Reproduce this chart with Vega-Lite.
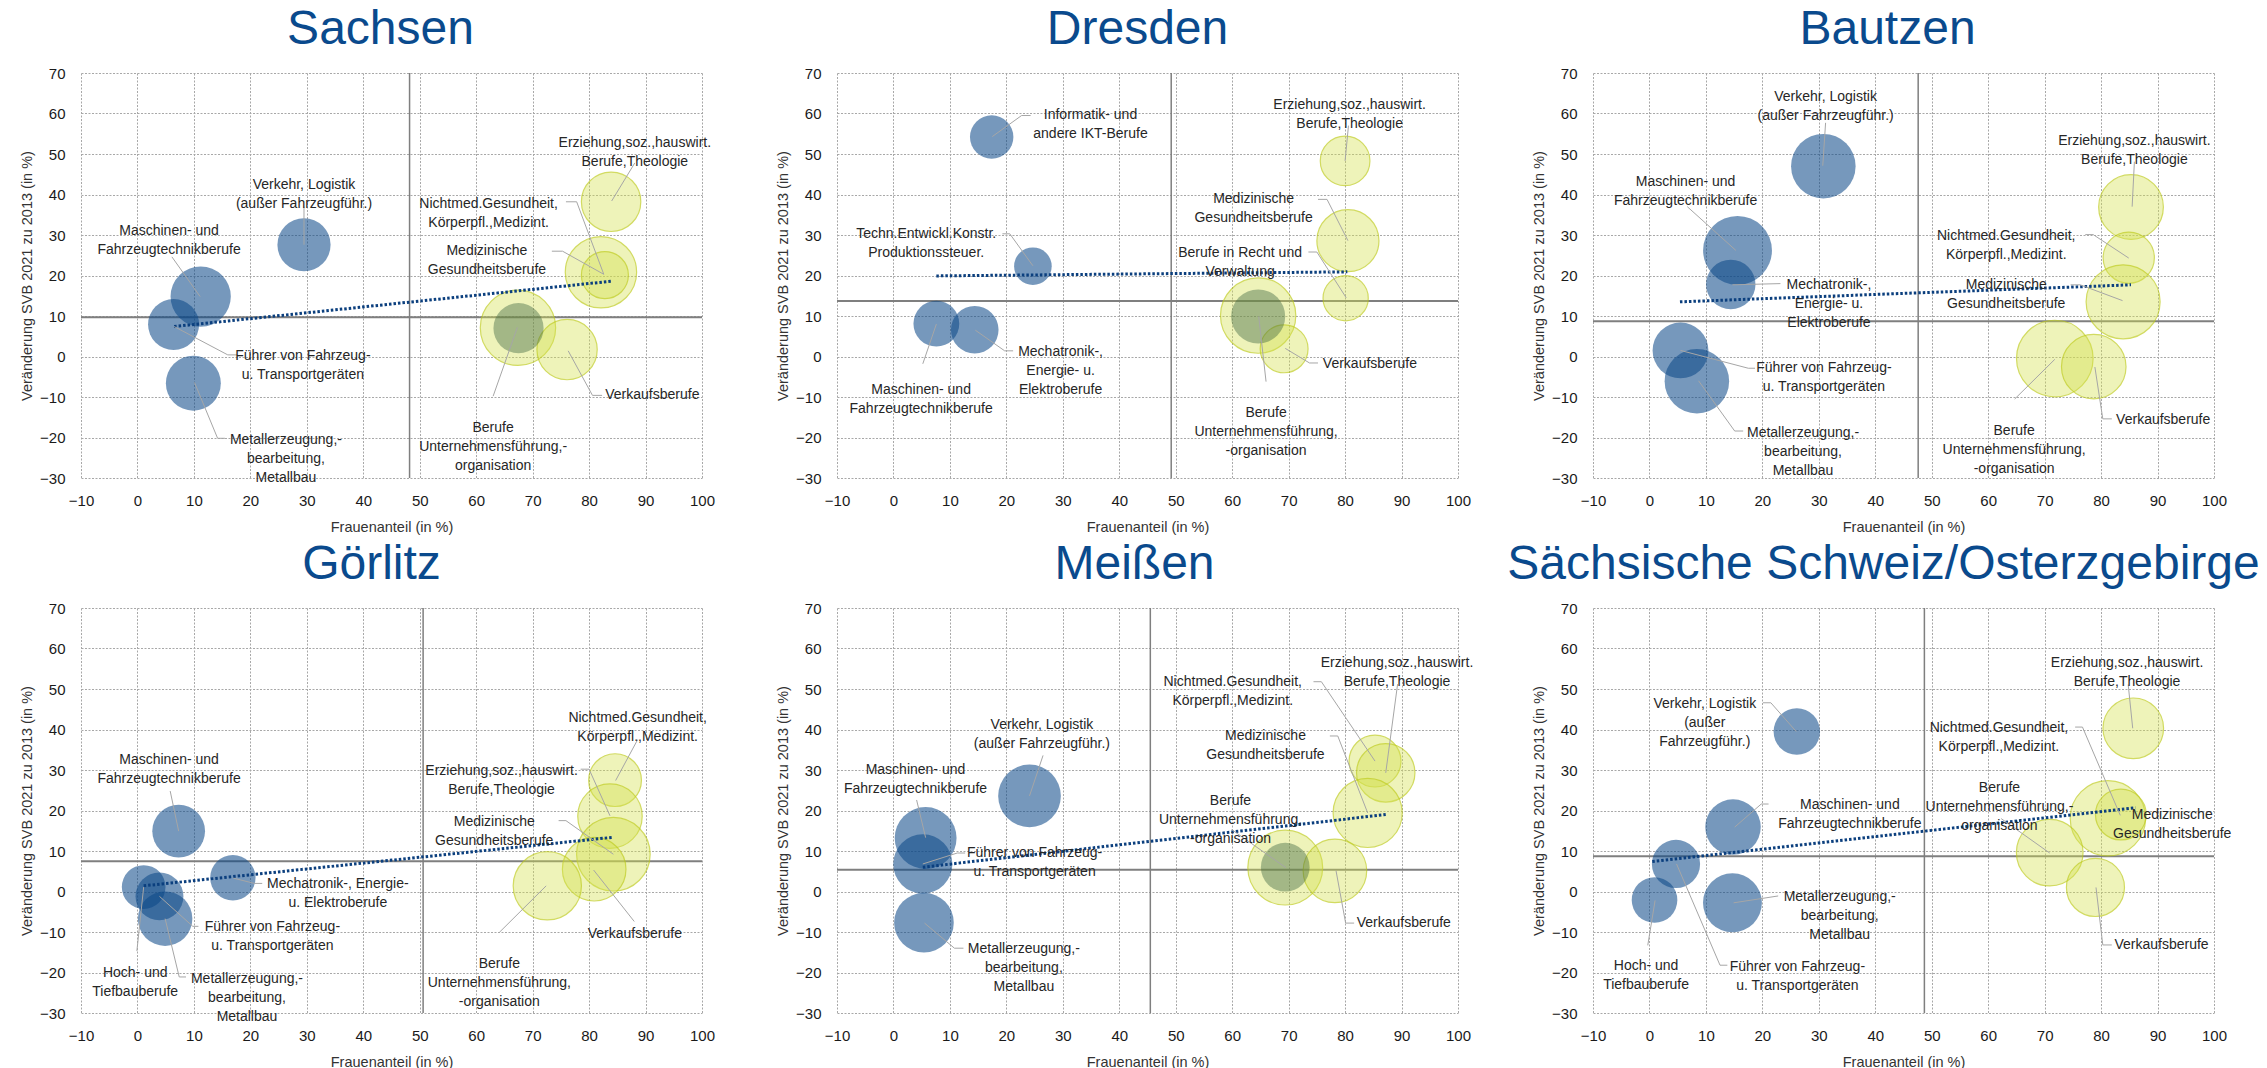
{
"$schema": "https://vega.github.io/schema/vega-lite/v6.json",
"background": "white",
"padding": {"left": 19, "top": 6, "right": 0, "bottom": 0},
"datasets": {
"refs": [
{"panel":"Sachsen","frauenanteil":48.2,"veraenderung":9.7},
{"panel":"Dresden","frauenanteil":49.2,"veraenderung":13.7},
{"panel":"Bautzen","frauenanteil":47.6,"veraenderung":8.7},
{"panel":"Görlitz","frauenanteil":50.6,"veraenderung":7.5},
{"panel":"Meißen","frauenanteil":45.5,"veraenderung":5.4},
{"panel":"Sächsische Schweiz/Osterzgebirge","frauenanteil":48.7,"veraenderung":8.7}
],
"trend": [
{"panel":"Sachsen","frauenanteil":6.5,"veraenderung":7.4},{"panel":"Sachsen","frauenanteil":84,"veraenderung":18.6},
{"panel":"Dresden","frauenanteil":7.6,"veraenderung":19.9},{"panel":"Dresden","frauenanteil":80.4,"veraenderung":20.9},
{"panel":"Bautzen","frauenanteil":5.4,"veraenderung":13.5},{"panel":"Bautzen","frauenanteil":85.3,"veraenderung":17.7},
{"panel":"Görlitz","frauenanteil":1.1,"veraenderung":1.4},{"panel":"Görlitz","frauenanteil":84.3,"veraenderung":13.4},
{"panel":"Meißen","frauenanteil":5.2,"veraenderung":6.0},{"panel":"Meißen","frauenanteil":87.2,"veraenderung":19.0},
{"panel":"Sächsische Schweiz/Osterzgebirge","frauenanteil":0.5,"veraenderung":7.4},{"panel":"Sächsische Schweiz/Osterzgebirge","frauenanteil":86.1,"veraenderung":20.7}
],
"bubbles": [
{"panel":"Sachsen","beruf":"Verkehr, Logistik (außer Fahrzeugführ.)","frauenanteil":29.5,"veraenderung":27.6,"groesse":3600,"gruppe":"Männerberufe"},
{"panel":"Sachsen","beruf":"Maschinen- und Fahrzeugtechnikberufe","frauenanteil":11.2,"veraenderung":14.8,"groesse":4624,"gruppe":"Männerberufe"},
{"panel":"Sachsen","beruf":"Führer von Fahrzeug- u. Transportgeräten","frauenanteil":6.4,"veraenderung":7.9,"groesse":3318,"gruppe":"Männerberufe"},
{"panel":"Sachsen","beruf":"Metallerzeugung,-bearbeitung, Metallbau","frauenanteil":9.9,"veraenderung":-6.6,"groesse":3844,"gruppe":"Männerberufe"},
{"panel":"Sachsen","beruf":"Erziehung,soz.,hauswirt. Berufe,Theologie","frauenanteil":83.9,"veraenderung":38.2,"groesse":4489,"gruppe":"Frauenberufe"},
{"panel":"Sachsen","beruf":"Medizinische Gesundheitsberufe","frauenanteil":82.1,"veraenderung":20.8,"groesse":6480,"gruppe":"Frauenberufe"},
{"panel":"Sachsen","beruf":"Nichtmed.Gesundheit, Körperpfl.,Medizint.","frauenanteil":82.8,"veraenderung":20.1,"groesse":2809,"gruppe":"Frauenberufe"},
{"panel":"Sachsen","beruf":"Berufe Unternehmensführung,-organisation","frauenanteil":67.4,"veraenderung":7.1,"groesse":7225,"gruppe":"Frauenberufe"},
{"panel":"Sachsen","beruf":"Verkaufsberufe","frauenanteil":76.1,"veraenderung":1.7,"groesse":4624,"gruppe":"Frauenberufe"},
{"panel":"Sachsen","beruf":"(ohne Bezeichnung)","frauenanteil":67.5,"veraenderung":7.0,"groesse":3204,"gruppe":"Sonstige"},

{"panel":"Dresden","beruf":"Informatik- und andere IKT-Berufe","frauenanteil":17.4,"veraenderung":54.2,"groesse":2401,"gruppe":"Männerberufe"},
{"panel":"Dresden","beruf":"Techn.Entwickl.Konstr. Produktionssteuer.","frauenanteil":24.7,"veraenderung":22.3,"groesse":1798,"gruppe":"Männerberufe"},
{"panel":"Dresden","beruf":"Maschinen- und Fahrzeugtechnikberufe","frauenanteil":7.6,"veraenderung":8.1,"groesse":2673,"gruppe":"Männerberufe"},
{"panel":"Dresden","beruf":"Mechatronik-, Energie- u. Elektroberufe","frauenanteil":14.4,"veraenderung":6.6,"groesse":2884,"gruppe":"Männerberufe"},
{"panel":"Dresden","beruf":"Erziehung,soz.,hauswirt. Berufe,Theologie","frauenanteil":80.0,"veraenderung":48.3,"groesse":3136,"gruppe":"Frauenberufe"},
{"panel":"Dresden","beruf":"Medizinische Gesundheitsberufe","frauenanteil":80.5,"veraenderung":28.6,"groesse":4900,"gruppe":"Frauenberufe"},
{"panel":"Dresden","beruf":"Berufe in Recht und Verwaltung","frauenanteil":80.1,"veraenderung":14.4,"groesse":2601,"gruppe":"Frauenberufe"},
{"panel":"Dresden","beruf":"Berufe Unternehmensführung,-organisation","frauenanteil":64.6,"veraenderung":10.1,"groesse":7225,"gruppe":"Frauenberufe"},
{"panel":"Dresden","beruf":"Verkaufsberufe","frauenanteil":69.2,"veraenderung":1.9,"groesse":2916,"gruppe":"Frauenberufe"},
{"panel":"Dresden","beruf":"(ohne Bezeichnung)","frauenanteil":64.6,"veraenderung":9.9,"groesse":3721,"gruppe":"Sonstige"},

{"panel":"Bautzen","beruf":"Verkehr, Logistik (außer Fahrzeugführ.)","frauenanteil":30.8,"veraenderung":47.0,"groesse":5300,"gruppe":"Männerberufe"},
{"panel":"Bautzen","beruf":"Maschinen- und Fahrzeugtechnikberufe","frauenanteil":15.6,"veraenderung":26.2,"groesse":6037,"gruppe":"Männerberufe"},
{"panel":"Bautzen","beruf":"Mechatronik-, Energie- u. Elektroberufe","frauenanteil":14.4,"veraenderung":17.8,"groesse":3114,"gruppe":"Männerberufe"},
{"panel":"Bautzen","beruf":"Führer von Fahrzeug- u. Transportgeräten","frauenanteil":5.5,"veraenderung":1.5,"groesse":3969,"gruppe":"Männerberufe"},
{"panel":"Bautzen","beruf":"Metallerzeugung,-bearbeitung, Metallbau","frauenanteil":8.4,"veraenderung":-6.1,"groesse":5300,"gruppe":"Männerberufe"},
{"panel":"Bautzen","beruf":"Erziehung,soz.,hauswirt. Berufe,Theologie","frauenanteil":85.3,"veraenderung":36.9,"groesse":5329,"gruppe":"Frauenberufe"},
{"panel":"Bautzen","beruf":"Nichtmed.Gesundheit, Körperpfl.,Medizint.","frauenanteil":84.9,"veraenderung":24.4,"groesse":3341,"gruppe":"Frauenberufe"},
{"panel":"Bautzen","beruf":"Medizinische Gesundheitsberufe","frauenanteil":83.9,"veraenderung":13.5,"groesse":6972,"gruppe":"Frauenberufe"},
{"panel":"Bautzen","beruf":"Berufe Unternehmensführung,-organisation","frauenanteil":71.8,"veraenderung":-0.5,"groesse":7465,"gruppe":"Frauenberufe"},
{"panel":"Bautzen","beruf":"Verkaufsberufe","frauenanteil":78.7,"veraenderung":-2.5,"groesse":5300,"gruppe":"Frauenberufe"},

{"panel":"Görlitz","beruf":"Maschinen- und Fahrzeugtechnikberufe","frauenanteil":7.3,"veraenderung":14.9,"groesse":3540,"gruppe":"Männerberufe"},
{"panel":"Görlitz","beruf":"Mechatronik-, Energie- u. Elektroberufe","frauenanteil":16.9,"veraenderung":3.4,"groesse":2621,"gruppe":"Männerberufe"},
{"panel":"Görlitz","beruf":"Hoch- und Tiefbauberufe","frauenanteil":1.1,"veraenderung":1.1,"groesse":2430,"gruppe":"Männerberufe"},
{"panel":"Görlitz","beruf":"Führer von Fahrzeug- u. Transportgeräten","frauenanteil":3.9,"veraenderung":-1.2,"groesse":2916,"gruppe":"Männerberufe"},
{"panel":"Görlitz","beruf":"Metallerzeugung,-bearbeitung, Metallbau","frauenanteil":4.9,"veraenderung":-6.7,"groesse":3782,"gruppe":"Männerberufe"},
{"panel":"Görlitz","beruf":"Nichtmed.Gesundheit, Körperpfl.,Medizint.","frauenanteil":84.6,"veraenderung":27.5,"groesse":3540,"gruppe":"Frauenberufe"},
{"panel":"Görlitz","beruf":"Erziehung,soz.,hauswirt. Berufe,Theologie","frauenanteil":83.7,"veraenderung":18.6,"groesse":5285,"gruppe":"Frauenberufe"},
{"panel":"Görlitz","beruf":"Medizinische Gesundheitsberufe","frauenanteil":84.3,"veraenderung":9.2,"groesse":6889,"gruppe":"Frauenberufe"},
{"panel":"Görlitz","beruf":"Verkaufsberufe","frauenanteil":80.9,"veraenderung":5.5,"groesse":5141,"gruppe":"Frauenberufe"},
{"panel":"Görlitz","beruf":"Berufe Unternehmensführung,-organisation","frauenanteil":72.6,"veraenderung":1.4,"groesse":5929,"gruppe":"Frauenberufe"},

{"panel":"Meißen","beruf":"Verkehr, Logistik (außer Fahrzeugführ.)","frauenanteil":24.1,"veraenderung":23.6,"groesse":4998,"gruppe":"Männerberufe"},
{"panel":"Meißen","beruf":"Maschinen- und Fahrzeugtechnikberufe","frauenanteil":5.7,"veraenderung":13.2,"groesse":4872,"gruppe":"Männerberufe"},
{"panel":"Meißen","beruf":"Führer von Fahrzeug- u. Transportgeräten","frauenanteil":5.2,"veraenderung":6.8,"groesse":4462,"gruppe":"Männerberufe"},
{"panel":"Meißen","beruf":"Metallerzeugung,-bearbeitung, Metallbau","frauenanteil":5.4,"veraenderung":-7.7,"groesse":4529,"gruppe":"Männerberufe"},
{"panel":"Meißen","beruf":"Nichtmed.Gesundheit, Körperpfl.,Medizint.","frauenanteil":85.3,"veraenderung":32.2,"groesse":3422,"gruppe":"Frauenberufe"},
{"panel":"Meißen","beruf":"Erziehung,soz.,hauswirt. Berufe,Theologie","frauenanteil":87.2,"veraenderung":29.3,"groesse":4343,"gruppe":"Frauenberufe"},
{"panel":"Meißen","beruf":"Medizinische Gesundheitsberufe","frauenanteil":84.0,"veraenderung":19.4,"groesse":6084,"gruppe":"Frauenberufe"},
{"panel":"Meißen","beruf":"Berufe Unternehmensführung,-organisation","frauenanteil":69.4,"veraenderung":5.9,"groesse":7123,"gruppe":"Frauenberufe"},
{"panel":"Meißen","beruf":"Verkaufsberufe","frauenanteil":78.2,"veraenderung":5.1,"groesse":5141,"gruppe":"Frauenberufe"},
{"panel":"Meißen","beruf":"(ohne Bezeichnung)","frauenanteil":69.4,"veraenderung":6.0,"groesse":3025,"gruppe":"Sonstige"},

{"panel":"Sächsische Schweiz/Osterzgebirge","beruf":"Verkehr, Logistik (außer Fahrzeugführ.)","frauenanteil":26.1,"veraenderung":39.5,"groesse":2746,"gruppe":"Männerberufe"},
{"panel":"Sächsische Schweiz/Osterzgebirge","beruf":"Maschinen- und Fahrzeugtechnikberufe","frauenanteil":14.8,"veraenderung":15.9,"groesse":3919,"gruppe":"Männerberufe"},
{"panel":"Sächsische Schweiz/Osterzgebirge","beruf":"Führer von Fahrzeug- u. Transportgeräten","frauenanteil":4.7,"veraenderung":6.8,"groesse":2959,"gruppe":"Männerberufe"},
{"panel":"Sächsische Schweiz/Osterzgebirge","beruf":"Hoch- und Tiefbauberufe","frauenanteil":0.9,"veraenderung":-2.1,"groesse":2652,"gruppe":"Männerberufe"},
{"panel":"Sächsische Schweiz/Osterzgebirge","beruf":"Metallerzeugung,-bearbeitung, Metallbau","frauenanteil":14.7,"veraenderung":-2.8,"groesse":4422,"gruppe":"Männerberufe"},
{"panel":"Sächsische Schweiz/Osterzgebirge","beruf":"Erziehung,soz.,hauswirt. Berufe,Theologie","frauenanteil":85.7,"veraenderung":40.3,"groesse":4679,"gruppe":"Frauenberufe"},
{"panel":"Sächsische Schweiz/Osterzgebirge","beruf":"Medizinische Gesundheitsberufe","frauenanteil":81.2,"veraenderung":18.1,"groesse":7225,"gruppe":"Frauenberufe"},
{"panel":"Sächsische Schweiz/Osterzgebirge","beruf":"Nichtmed.Gesundheit, Körperpfl.,Medizint.","frauenanteil":83.5,"veraenderung":19.0,"groesse":3283,"gruppe":"Frauenberufe"},
{"panel":"Sächsische Schweiz/Osterzgebirge","beruf":"Berufe Unternehmensführung,-organisation","frauenanteil":70.9,"veraenderung":9.6,"groesse":5655,"gruppe":"Frauenberufe"},
{"panel":"Sächsische Schweiz/Osterzgebirge","beruf":"Verkaufsberufe","frauenanteil":79.0,"veraenderung":1.0,"groesse":4290,"gruppe":"Frauenberufe"}
],
"leaders": [
{"panel":"Sachsen","lid":"S1","ord":1,"frauenanteil":29.5,"veraenderung":37},{"panel":"Sachsen","lid":"S1","ord":2,"frauenanteil":29.5,"veraenderung":27.6},
{"panel":"Sachsen","lid":"S2","ord":1,"frauenanteil":6.1,"veraenderung":24.6},{"panel":"Sachsen","lid":"S2","ord":2,"frauenanteil":11.1,"veraenderung":14.8},
{"panel":"Sachsen","lid":"S3","ord":1,"frauenanteil":17.7,"veraenderung":0.4},{"panel":"Sachsen","lid":"S3","ord":2,"frauenanteil":16,"veraenderung":0.4},{"panel":"Sachsen","lid":"S3","ord":3,"frauenanteil":6.5,"veraenderung":7.4},
{"panel":"Sachsen","lid":"S4","ord":1,"frauenanteil":15.5,"veraenderung":-20.2},{"panel":"Sachsen","lid":"S4","ord":2,"frauenanteil":14.2,"veraenderung":-20.2},{"panel":"Sachsen","lid":"S4","ord":3,"frauenanteil":10.1,"veraenderung":-6.4},
{"panel":"Sachsen","lid":"S5","ord":1,"frauenanteil":88.1,"veraenderung":47.8},{"panel":"Sachsen","lid":"S5","ord":2,"frauenanteil":84,"veraenderung":38.4},
{"panel":"Sachsen","lid":"S6","ord":1,"frauenanteil":75.9,"veraenderung":38.2},{"panel":"Sachsen","lid":"S6","ord":2,"frauenanteil":77.8,"veraenderung":38.2},{"panel":"Sachsen","lid":"S6","ord":3,"frauenanteil":82.6,"veraenderung":20.3},
{"panel":"Sachsen","lid":"S7","ord":1,"frauenanteil":73.4,"veraenderung":26},{"panel":"Sachsen","lid":"S7","ord":2,"frauenanteil":75.3,"veraenderung":26},{"panel":"Sachsen","lid":"S7","ord":3,"frauenanteil":82.6,"veraenderung":20.3},
{"panel":"Sachsen","lid":"S8","ord":1,"frauenanteil":63,"veraenderung":-9.8},{"panel":"Sachsen","lid":"S8","ord":2,"frauenanteil":67.3,"veraenderung":7.2},
{"panel":"Sachsen","lid":"S9","ord":1,"frauenanteil":82.3,"veraenderung":-9.6},{"panel":"Sachsen","lid":"S9","ord":2,"frauenanteil":80.6,"veraenderung":-9.6},{"panel":"Sachsen","lid":"S9","ord":3,"frauenanteil":76.3,"veraenderung":1.4},

{"panel":"Dresden","lid":"D1","ord":1,"frauenanteil":24.3,"veraenderung":59.5},{"panel":"Dresden","lid":"D1","ord":2,"frauenanteil":22.7,"veraenderung":59.5},{"panel":"Dresden","lid":"D1","ord":3,"frauenanteil":17.5,"veraenderung":54.3},
{"panel":"Dresden","lid":"D2","ord":1,"frauenanteil":19.3,"veraenderung":30.3},{"panel":"Dresden","lid":"D2","ord":2,"frauenanteil":20.6,"veraenderung":30.3},{"panel":"Dresden","lid":"D2","ord":3,"frauenanteil":24.7,"veraenderung":22.4},
{"panel":"Dresden","lid":"D3","ord":1,"frauenanteil":5.2,"veraenderung":-1.8},{"panel":"Dresden","lid":"D3","ord":2,"frauenanteil":7.6,"veraenderung":8},
{"panel":"Dresden","lid":"D4","ord":1,"frauenanteil":21.2,"veraenderung":1.4},{"panel":"Dresden","lid":"D4","ord":2,"frauenanteil":19.7,"veraenderung":1.4},{"panel":"Dresden","lid":"D4","ord":3,"frauenanteil":14.5,"veraenderung":6.5},
{"panel":"Dresden","lid":"D5","ord":1,"frauenanteil":80.6,"veraenderung":57},{"panel":"Dresden","lid":"D5","ord":2,"frauenanteil":80,"veraenderung":48.3},
{"panel":"Dresden","lid":"D6","ord":1,"frauenanteil":75.2,"veraenderung":38.8},{"panel":"Dresden","lid":"D6","ord":2,"frauenanteil":76.8,"veraenderung":38.8},{"panel":"Dresden","lid":"D6","ord":3,"frauenanteil":80.5,"veraenderung":28.6},
{"panel":"Dresden","lid":"D7","ord":1,"frauenanteil":73.5,"veraenderung":25.8},{"panel":"Dresden","lid":"D7","ord":2,"frauenanteil":75,"veraenderung":25.8},{"panel":"Dresden","lid":"D7","ord":3,"frauenanteil":80.2,"veraenderung":14.5},
{"panel":"Dresden","lid":"D8","ord":1,"frauenanteil":75.2,"veraenderung":-1.6},{"panel":"Dresden","lid":"D8","ord":2,"frauenanteil":73.7,"veraenderung":-1.6},{"panel":"Dresden","lid":"D8","ord":3,"frauenanteil":69.4,"veraenderung":2},
{"panel":"Dresden","lid":"D9","ord":1,"frauenanteil":66,"veraenderung":-6.2},{"panel":"Dresden","lid":"D9","ord":2,"frauenanteil":64.7,"veraenderung":9.9},

{"panel":"Bautzen","lid":"B1","ord":1,"frauenanteil":31.2,"veraenderung":57.7},{"panel":"Bautzen","lid":"B1","ord":2,"frauenanteil":30.7,"veraenderung":47.1},
{"panel":"Bautzen","lid":"B2","ord":1,"frauenanteil":6.7,"veraenderung":37},{"panel":"Bautzen","lid":"B2","ord":2,"frauenanteil":15.3,"veraenderung":26.2},
{"panel":"Bautzen","lid":"B3","ord":1,"frauenanteil":23.2,"veraenderung":18},{"panel":"Bautzen","lid":"B3","ord":2,"frauenanteil":14.7,"veraenderung":17.7},
{"panel":"Bautzen","lid":"B4","ord":1,"frauenanteil":18.7,"veraenderung":-2.9},{"panel":"Bautzen","lid":"B4","ord":2,"frauenanteil":17.5,"veraenderung":-2.9},{"panel":"Bautzen","lid":"B4","ord":3,"frauenanteil":5.5,"veraenderung":1.5},
{"panel":"Bautzen","lid":"B5","ord":1,"frauenanteil":16.6,"veraenderung":-18.4},{"panel":"Bautzen","lid":"B5","ord":2,"frauenanteil":15.1,"veraenderung":-18.4},{"panel":"Bautzen","lid":"B5","ord":3,"frauenanteil":8.7,"veraenderung":-6},
{"panel":"Bautzen","lid":"B6","ord":1,"frauenanteil":85.9,"veraenderung":48.1},{"panel":"Bautzen","lid":"B6","ord":2,"frauenanteil":85.5,"veraenderung":37},
{"panel":"Bautzen","lid":"B7","ord":1,"frauenanteil":77.2,"veraenderung":30.1},{"panel":"Bautzen","lid":"B7","ord":2,"frauenanteil":78.6,"veraenderung":30.1},{"panel":"Bautzen","lid":"B7","ord":3,"frauenanteil":84.9,"veraenderung":24.3},
{"panel":"Bautzen","lid":"B8","ord":1,"frauenanteil":74.6,"veraenderung":17.7},{"panel":"Bautzen","lid":"B8","ord":2,"frauenanteil":76.3,"veraenderung":17.7},{"panel":"Bautzen","lid":"B8","ord":3,"frauenanteil":83.8,"veraenderung":13.8},
{"panel":"Bautzen","lid":"B9","ord":1,"frauenanteil":64.7,"veraenderung":-10.5},{"panel":"Bautzen","lid":"B9","ord":2,"frauenanteil":71.8,"veraenderung":-0.7},
{"panel":"Bautzen","lid":"B10","ord":1,"frauenanteil":81.9,"veraenderung":-15.4},{"panel":"Bautzen","lid":"B10","ord":2,"frauenanteil":80.3,"veraenderung":-15.4},{"panel":"Bautzen","lid":"B10","ord":3,"frauenanteil":78.9,"veraenderung":-2.6},

{"panel":"Görlitz","lid":"G1","ord":1,"frauenanteil":5.8,"veraenderung":24.8},{"panel":"Görlitz","lid":"G1","ord":2,"frauenanteil":7.3,"veraenderung":14.9},
{"panel":"Görlitz","lid":"G2","ord":1,"frauenanteil":22.1,"veraenderung":2},{"panel":"Görlitz","lid":"G2","ord":2,"frauenanteil":20.7,"veraenderung":2},{"panel":"Görlitz","lid":"G2","ord":3,"frauenanteil":17,"veraenderung":3.3},
{"panel":"Görlitz","lid":"G3","ord":1,"frauenanteil":10.8,"veraenderung":-8.6},{"panel":"Görlitz","lid":"G3","ord":2,"frauenanteil":9.8,"veraenderung":-8.6},{"panel":"Görlitz","lid":"G3","ord":3,"frauenanteil":3.9,"veraenderung":-1.2},
{"panel":"Görlitz","lid":"G4","ord":1,"frauenanteil":-0.1,"veraenderung":-14.7},{"panel":"Görlitz","lid":"G4","ord":2,"frauenanteil":1.1,"veraenderung":1.1},
{"panel":"Görlitz","lid":"G5","ord":1,"frauenanteil":8.6,"veraenderung":-21.1},{"panel":"Görlitz","lid":"G5","ord":2,"frauenanteil":7.4,"veraenderung":-21.1},{"panel":"Görlitz","lid":"G5","ord":3,"frauenanteil":4.9,"veraenderung":-6.7},
{"panel":"Görlitz","lid":"G6","ord":1,"frauenanteil":88.6,"veraenderung":37.5},{"panel":"Görlitz","lid":"G6","ord":2,"frauenanteil":84.7,"veraenderung":27.4},
{"panel":"Görlitz","lid":"G7","ord":1,"frauenanteil":78.5,"veraenderung":30.2},{"panel":"Görlitz","lid":"G7","ord":2,"frauenanteil":80,"veraenderung":30.2},{"panel":"Görlitz","lid":"G7","ord":3,"frauenanteil":83.7,"veraenderung":18.7},
{"panel":"Görlitz","lid":"G8","ord":1,"frauenanteil":74.6,"veraenderung":17.5},{"panel":"Görlitz","lid":"G8","ord":2,"frauenanteil":75.9,"veraenderung":17.5},{"panel":"Görlitz","lid":"G8","ord":3,"frauenanteil":84.3,"veraenderung":9.2},
{"panel":"Görlitz","lid":"G9","ord":1,"frauenanteil":88,"veraenderung":-7.4},{"panel":"Görlitz","lid":"G9","ord":2,"frauenanteil":80.8,"veraenderung":5.3},
{"panel":"Görlitz","lid":"G10","ord":1,"frauenanteil":64.1,"veraenderung":-10.1},{"panel":"Görlitz","lid":"G10","ord":2,"frauenanteil":72.4,"veraenderung":1.4},

{"panel":"Meißen","lid":"M1","ord":1,"frauenanteil":26.5,"veraenderung":33.6},{"panel":"Meißen","lid":"M1","ord":2,"frauenanteil":24.1,"veraenderung":23.6},
{"panel":"Meißen","lid":"M2","ord":1,"frauenanteil":4.1,"veraenderung":22.6},{"panel":"Meißen","lid":"M2","ord":2,"frauenanteil":5.7,"veraenderung":13.3},
{"panel":"Meißen","lid":"M3","ord":1,"frauenanteil":12.7,"veraenderung":9.5},{"panel":"Meißen","lid":"M3","ord":2,"frauenanteil":11.3,"veraenderung":9.5},{"panel":"Meißen","lid":"M3","ord":3,"frauenanteil":5.2,"veraenderung":6.8},
{"panel":"Meißen","lid":"M4","ord":1,"frauenanteil":12.4,"veraenderung":-14},{"panel":"Meißen","lid":"M4","ord":2,"frauenanteil":10.8,"veraenderung":-14},{"panel":"Meißen","lid":"M4","ord":3,"frauenanteil":5.5,"veraenderung":-7.8},
{"panel":"Meißen","lid":"M5","ord":1,"frauenanteil":89.3,"veraenderung":51.2},{"panel":"Meißen","lid":"M5","ord":2,"frauenanteil":87.2,"veraenderung":29.3},
{"panel":"Meißen","lid":"M6","ord":1,"frauenanteil":74.4,"veraenderung":51.8},{"panel":"Meißen","lid":"M6","ord":2,"frauenanteil":75.8,"veraenderung":51.8},{"panel":"Meißen","lid":"M6","ord":3,"frauenanteil":85.3,"veraenderung":32.2},
{"panel":"Meißen","lid":"M7","ord":1,"frauenanteil":77.3,"veraenderung":38.4},{"panel":"Meißen","lid":"M7","ord":2,"frauenanteil":78.7,"veraenderung":38.4},{"panel":"Meißen","lid":"M7","ord":3,"frauenanteil":84,"veraenderung":19.4},
{"panel":"Meißen","lid":"M8","ord":1,"frauenanteil":59.9,"veraenderung":15.3},{"panel":"Meißen","lid":"M8","ord":2,"frauenanteil":69.5,"veraenderung":5.9},
{"panel":"Meißen","lid":"M9","ord":1,"frauenanteil":81.6,"veraenderung":-7.8},{"panel":"Meißen","lid":"M9","ord":2,"frauenanteil":80.1,"veraenderung":-7.8},{"panel":"Meißen","lid":"M9","ord":3,"frauenanteil":78.4,"veraenderung":5.1},

{"panel":"Sächsische Schweiz/Osterzgebirge","lid":"O1","ord":1,"frauenanteil":20.1,"veraenderung":46.6},{"panel":"Sächsische Schweiz/Osterzgebirge","lid":"O1","ord":2,"frauenanteil":21.5,"veraenderung":46.6},{"panel":"Sächsische Schweiz/Osterzgebirge","lid":"O1","ord":3,"frauenanteil":26,"veraenderung":39.5},
{"panel":"Sächsische Schweiz/Osterzgebirge","lid":"O2","ord":1,"frauenanteil":21.1,"veraenderung":21.6},{"panel":"Sächsische Schweiz/Osterzgebirge","lid":"O2","ord":2,"frauenanteil":19.8,"veraenderung":21.6},{"panel":"Sächsische Schweiz/Osterzgebirge","lid":"O2","ord":3,"frauenanteil":15.1,"veraenderung":15.9},
{"panel":"Sächsische Schweiz/Osterzgebirge","lid":"O3","ord":1,"frauenanteil":22.8,"veraenderung":-1.1},{"panel":"Sächsische Schweiz/Osterzgebirge","lid":"O3","ord":2,"frauenanteil":14.9,"veraenderung":-2.8},
{"panel":"Sächsische Schweiz/Osterzgebirge","lid":"O4","ord":1,"frauenanteil":-0.3,"veraenderung":-13.3},{"panel":"Sächsische Schweiz/Osterzgebirge","lid":"O4","ord":2,"frauenanteil":1,"veraenderung":-2.2},
{"panel":"Sächsische Schweiz/Osterzgebirge","lid":"O5","ord":1,"frauenanteil":13.8,"veraenderung":-18.2},{"panel":"Sächsische Schweiz/Osterzgebirge","lid":"O5","ord":2,"frauenanteil":12.5,"veraenderung":-18.2},{"panel":"Sächsische Schweiz/Osterzgebirge","lid":"O5","ord":3,"frauenanteil":4.8,"veraenderung":6.8},
{"panel":"Sächsische Schweiz/Osterzgebirge","lid":"O6","ord":1,"frauenanteil":84.8,"veraenderung":51.1},{"panel":"Sächsische Schweiz/Osterzgebirge","lid":"O6","ord":2,"frauenanteil":85.6,"veraenderung":40.3},
{"panel":"Sächsische Schweiz/Osterzgebirge","lid":"O7","ord":1,"frauenanteil":75.4,"veraenderung":40.6},{"panel":"Sächsische Schweiz/Osterzgebirge","lid":"O7","ord":2,"frauenanteil":76.7,"veraenderung":40.6},{"panel":"Sächsische Schweiz/Osterzgebirge","lid":"O7","ord":3,"frauenanteil":83.4,"veraenderung":18.8},
{"panel":"Sächsische Schweiz/Osterzgebirge","lid":"O8","ord":1,"frauenanteil":62.3,"veraenderung":18},{"panel":"Sächsische Schweiz/Osterzgebirge","lid":"O8","ord":2,"frauenanteil":70.9,"veraenderung":9.5},
{"panel":"Sächsische Schweiz/Osterzgebirge","lid":"O9","ord":1,"frauenanteil":81.9,"veraenderung":-13.2},{"panel":"Sächsische Schweiz/Osterzgebirge","lid":"O9","ord":2,"frauenanteil":80.3,"veraenderung":-13.2},{"panel":"Sächsische Schweiz/Osterzgebirge","lid":"O9","ord":3,"frauenanteil":79.1,"veraenderung":1}
],
"labels": [
{"panel":"Sachsen","text":"Verkehr, Logistik\n(außer Fahrzeugführ.)","frauenanteil":29.5,"veraenderung":42.45},
{"panel":"Sachsen","text":"Maschinen- und\nFahrzeugtechnikberufe","frauenanteil":5.6,"veraenderung":31.05},
{"panel":"Sachsen","text":"Führer von Fahrzeug-\nu. Transportgeräten","frauenanteil":29.3,"veraenderung":0.15},
{"panel":"Sachsen","text":"Metallerzeugung,-\nbearbeitung,\nMetallbau","frauenanteil":26.3,"veraenderung":-20.5},
{"panel":"Sachsen","text":"Erziehung,soz.,hauswirt.\nBerufe,Theologie","frauenanteil":88.1,"veraenderung":52.6},
{"panel":"Sachsen","text":"Nichtmed.Gesundheit,\nKörperpfl.,Medizint.","frauenanteil":62.2,"veraenderung":37.75},
{"panel":"Sachsen","text":"Medizinische\nGesundheitsberufe","frauenanteil":61.9,"veraenderung":26.05},
{"panel":"Sachsen","text":"Berufe\nUnternehmensführung,-\norganisation","frauenanteil":63,"veraenderung":-17.7},
{"panel":"Sachsen","text":"Verkaufsberufe","frauenanteil":91.2,"veraenderung":-9.6},

{"panel":"Dresden","text":"Informatik- und\nandere IKT-Berufe","frauenanteil":34.9,"veraenderung":59.6},
{"panel":"Dresden","text":"Techn.Entwickl.Konstr.\nProduktionssteuer.","frauenanteil":5.8,"veraenderung":30.25},
{"panel":"Dresden","text":"Maschinen- und\nFahrzeugtechnikberufe","frauenanteil":4.9,"veraenderung":-8.2},
{"panel":"Dresden","text":"Mechatronik-,\nEnergie- u.\nElektroberufe","frauenanteil":29.6,"veraenderung":1.2},
{"panel":"Dresden","text":"Erziehung,soz.,hauswirt.\nBerufe,Theologie","frauenanteil":80.8,"veraenderung":62.15},
{"panel":"Dresden","text":"Medizinische\nGesundheitsberufe","frauenanteil":63.8,"veraenderung":38.85},
{"panel":"Dresden","text":"Berufe in Recht und\nVerwaltung","frauenanteil":61.4,"veraenderung":25.6},
{"panel":"Dresden","text":"Verkaufsberufe","frauenanteil":84.4,"veraenderung":-1.8},
{"panel":"Dresden","text":"Berufe\nUnternehmensführung,\n-organisation","frauenanteil":66,"veraenderung":-13.9},

{"panel":"Bautzen","text":"Verkehr, Logistik\n(außer Fahrzeugführ.)","frauenanteil":31.2,"veraenderung":64},
{"panel":"Bautzen","text":"Maschinen- und\nFahrzeugtechnikberufe","frauenanteil":6.4,"veraenderung":43.05},
{"panel":"Bautzen","text":"Mechatronik-,\nEnergie- u.\nElektroberufe","frauenanteil":31.8,"veraenderung":17.7},
{"panel":"Bautzen","text":"Führer von Fahrzeug-\nu. Transportgeräten","frauenanteil":30.9,"veraenderung":-2.85},
{"panel":"Bautzen","text":"Metallerzeugung,-\nbearbeitung,\nMetallbau","frauenanteil":27.2,"veraenderung":-18.8},
{"panel":"Bautzen","text":"Erziehung,soz.,hauswirt.\nBerufe,Theologie","frauenanteil":85.9,"veraenderung":53.25},
{"panel":"Bautzen","text":"Nichtmed.Gesundheit,\nKörperpfl.,Medizint.","frauenanteil":63.2,"veraenderung":29.85},
{"panel":"Bautzen","text":"Medizinische\nGesundheitsberufe","frauenanteil":63.2,"veraenderung":17.55},
{"panel":"Bautzen","text":"Berufe\nUnternehmensführung,\n-organisation","frauenanteil":64.6,"veraenderung":-18.4},
{"panel":"Bautzen","text":"Verkaufsberufe","frauenanteil":91,"veraenderung":-15.6},

{"panel":"Görlitz","text":"Maschinen- und\nFahrzeugtechnikberufe","frauenanteil":5.6,"veraenderung":32.35},
{"panel":"Görlitz","text":"Mechatronik-, Energie-\nu. Elektroberufe","frauenanteil":35.5,"veraenderung":1.75},
{"panel":"Görlitz","text":"Führer von Fahrzeug-\nu. Transportgeräten","frauenanteil":23.9,"veraenderung":-8.75},
{"panel":"Görlitz","text":"Hoch- und\nTiefbauberufe","frauenanteil":-0.4,"veraenderung":-20.05},
{"panel":"Görlitz","text":"Metallerzeugung,-\nbearbeitung,\nMetallbau","frauenanteil":19.4,"veraenderung":-21.5},
{"panel":"Görlitz","text":"Nichtmed.Gesundheit,\nKörperpfl.,Medizint.","frauenanteil":88.6,"veraenderung":42.85},
{"panel":"Görlitz","text":"Erziehung,soz.,hauswirt.\nBerufe,Theologie","frauenanteil":64.5,"veraenderung":29.8},
{"panel":"Görlitz","text":"Medizinische\nGesundheitsberufe","frauenanteil":63.2,"veraenderung":17.25},
{"panel":"Görlitz","text":"Verkaufsberufe","frauenanteil":88.1,"veraenderung":-10.5},
{"panel":"Görlitz","text":"Berufe\nUnternehmensführung,\n-organisation","frauenanteil":64.1,"veraenderung":-18},

{"panel":"Meißen","text":"Verkehr, Logistik\n(außer Fahrzeugführ.)","frauenanteil":26.3,"veraenderung":41.1},
{"panel":"Meißen","text":"Maschinen- und\nFahrzeugtechnikberufe","frauenanteil":3.9,"veraenderung":29.95},
{"panel":"Meißen","text":"Führer von Fahrzeug-\nu. Transportgeräten","frauenanteil":25,"veraenderung":9.45},
{"panel":"Meißen","text":"Metallerzeugung,-\nbearbeitung,\nMetallbau","frauenanteil":23.1,"veraenderung":-14.3},
{"panel":"Meißen","text":"Erziehung,soz.,hauswirt.\nBerufe,Theologie","frauenanteil":89.2,"veraenderung":56.5},
{"panel":"Meißen","text":"Nichtmed.Gesundheit,\nKörperpfl.,Medizint.","frauenanteil":60.1,"veraenderung":51.85},
{"panel":"Meißen","text":"Medizinische\nGesundheitsberufe","frauenanteil":65.9,"veraenderung":38.3},
{"panel":"Meißen","text":"Berufe\nUnternehmensführung,\n-organisation","frauenanteil":59.7,"veraenderung":22.4},
{"panel":"Meißen","text":"Verkaufsberufe","frauenanteil":90.4,"veraenderung":-7.8},

{"panel":"Sächsische Schweiz/Osterzgebirge","text":"Verkehr, Logistik\n(außer\nFahrzeugführ.)","frauenanteil":9.8,"veraenderung":46.33},
{"panel":"Sächsische Schweiz/Osterzgebirge","text":"Maschinen- und\nFahrzeugtechnikberufe","frauenanteil":35.5,"veraenderung":21.3},
{"panel":"Sächsische Schweiz/Osterzgebirge","text":"Metallerzeugung,-\nbearbeitung,\nMetallbau","frauenanteil":33.7,"veraenderung":-1.33},
{"panel":"Sächsische Schweiz/Osterzgebirge","text":"Hoch- und\nTiefbauberufe","frauenanteil":-0.6,"veraenderung":-18.45},
{"panel":"Sächsische Schweiz/Osterzgebirge","text":"Führer von Fahrzeug-\nu. Transportgeräten","frauenanteil":26.2,"veraenderung":-18.55},
{"panel":"Sächsische Schweiz/Osterzgebirge","text":"Erziehung,soz.,hauswirt.\nBerufe,Theologie","frauenanteil":84.6,"veraenderung":56.5},
{"panel":"Sächsische Schweiz/Osterzgebirge","text":"Nichtmed.Gesundheit,\nKörperpfl.,Medizint.","frauenanteil":61.9,"veraenderung":40.45},
{"panel":"Sächsische Schweiz/Osterzgebirge","text":"Berufe\nUnternehmensführung,-\norganisation","frauenanteil":62,"veraenderung":25.57},
{"panel":"Sächsische Schweiz/Osterzgebirge","text":"Medizinische\nGesundheitsberufe","frauenanteil":92.6,"veraenderung":18.8},
{"panel":"Sächsische Schweiz/Osterzgebirge","text":"Verkaufsberufe","frauenanteil":90.7,"veraenderung":-13.2}
]
},
"columns": 3,
"spacing": {"row": 130, "column": 135},
"bounds": "flush",
"concat": [
{"title":{"text":"Sachsen","dx":-11},"width":621,"height":405,"layer":[
{"data":{"name":"refs"},"transform":[{"filter":"datum.panel==='Sachsen'"}],"mark":{"type":"rule","stroke":"#7f7f7f","strokeWidth":1.5},"encoding":{"x":{"field":"frauenanteil","type":"quantitative","scale":{"domain":[-10,100],"nice":false,"zero":false},"title":"Frauenanteil (in %)"}}},
{"data":{"name":"refs"},"transform":[{"filter":"datum.panel==='Sachsen'"}],"mark":{"type":"rule","stroke":"#7f7f7f","strokeWidth":2},"encoding":{"y":{"field":"veraenderung","type":"quantitative","scale":{"domain":[-30,70],"nice":false,"zero":false},"title":"Veränderung SVB 2021 zu 2013 (in %)"}}},
{"data":{"name":"bubbles"},"transform":[{"filter":"datum.panel==='Sachsen'"}],"mark":{"type":"point","shape":"circle","filled":true},"encoding":{"x":{"field":"frauenanteil","type":"quantitative","scale":{"domain":[-10,100],"nice":false,"zero":false},"title":"Frauenanteil (in %)"},"y":{"field":"veraenderung","type":"quantitative","scale":{"domain":[-30,70],"nice":false,"zero":false},"title":"Veränderung SVB 2021 zu 2013 (in %)"},"size":{"field":"groesse","type":"quantitative","scale":{"domain":[0,10000],"range":[0,7854]},"legend":null},"fill":{"field":"gruppe","type":"nominal","scale":{"domain":["Männerberufe","Frauenberufe","Sonstige"],"range":["#0B4787","#D4E04A","#3C6541"]},"legend":null},"fillOpacity":{"field":"gruppe","type":"nominal","scale":{"type":"ordinal","domain":["Männerberufe","Frauenberufe","Sonstige"],"range":[0.8,0.55,0.6]},"legend":null},"stroke":{"field":"gruppe","type":"nominal","scale":{"domain":["Männerberufe","Frauenberufe","Sonstige"],"range":["#0B4787","#BFCC1F","#3C6541"]},"legend":null},"strokeWidth":{"field":"gruppe","type":"nominal","scale":{"type":"ordinal","domain":["Männerberufe","Frauenberufe","Sonstige"],"range":[0,1.2,0]},"legend":null}}},
{"data":{"name":"trend"},"transform":[{"filter":"datum.panel==='Sachsen'"}],"mark":{"type":"line","stroke":"#0B3F7E","strokeWidth":3,"strokeDash":[2.5,2]},"encoding":{"x":{"field":"frauenanteil","type":"quantitative","scale":{"domain":[-10,100],"nice":false,"zero":false},"title":"Frauenanteil (in %)"},"y":{"field":"veraenderung","type":"quantitative","scale":{"domain":[-30,70],"nice":false,"zero":false},"title":"Veränderung SVB 2021 zu 2013 (in %)"}}},
{"data":{"name":"leaders"},"transform":[{"filter":"datum.panel==='Sachsen'"}],"mark":{"type":"line","stroke":"#a6a6a6","strokeWidth":1},"encoding":{"x":{"field":"frauenanteil","type":"quantitative","scale":{"domain":[-10,100],"nice":false,"zero":false},"title":"Frauenanteil (in %)"},"y":{"field":"veraenderung","type":"quantitative","scale":{"domain":[-30,70],"nice":false,"zero":false},"title":"Veränderung SVB 2021 zu 2013 (in %)"},"detail":{"field":"lid","type":"nominal"},"order":{"field":"ord","type":"quantitative"}}},
{"data":{"name":"labels"},"transform":[{"filter":"datum.panel==='Sachsen'"}],"mark":{"type":"text","lineBreak":"\n","lineHeight":19,"fontSize":14,"align":"center","baseline":"middle","color":"#262626"},"encoding":{"x":{"field":"frauenanteil","type":"quantitative","scale":{"domain":[-10,100],"nice":false,"zero":false},"title":"Frauenanteil (in %)"},"y":{"field":"veraenderung","type":"quantitative","scale":{"domain":[-30,70],"nice":false,"zero":false},"title":"Veränderung SVB 2021 zu 2013 (in %)"},"text":{"field":"text","type":"nominal"}}}
]},
{"title":{"text":"Dresden","dx":-10},"width":621,"height":405,"layer":[
{"data":{"name":"refs"},"transform":[{"filter":"datum.panel==='Dresden'"}],"mark":{"type":"rule","stroke":"#7f7f7f","strokeWidth":1.5},"encoding":{"x":{"field":"frauenanteil","type":"quantitative","scale":{"domain":[-10,100],"nice":false,"zero":false},"title":"Frauenanteil (in %)"}}},
{"data":{"name":"refs"},"transform":[{"filter":"datum.panel==='Dresden'"}],"mark":{"type":"rule","stroke":"#7f7f7f","strokeWidth":2},"encoding":{"y":{"field":"veraenderung","type":"quantitative","scale":{"domain":[-30,70],"nice":false,"zero":false},"title":"Veränderung SVB 2021 zu 2013 (in %)"}}},
{"data":{"name":"bubbles"},"transform":[{"filter":"datum.panel==='Dresden'"}],"mark":{"type":"point","shape":"circle","filled":true},"encoding":{"x":{"field":"frauenanteil","type":"quantitative","scale":{"domain":[-10,100],"nice":false,"zero":false},"title":"Frauenanteil (in %)"},"y":{"field":"veraenderung","type":"quantitative","scale":{"domain":[-30,70],"nice":false,"zero":false},"title":"Veränderung SVB 2021 zu 2013 (in %)"},"size":{"field":"groesse","type":"quantitative","scale":{"domain":[0,10000],"range":[0,7854]},"legend":null},"fill":{"field":"gruppe","type":"nominal","scale":{"domain":["Männerberufe","Frauenberufe","Sonstige"],"range":["#0B4787","#D4E04A","#3C6541"]},"legend":null},"fillOpacity":{"field":"gruppe","type":"nominal","scale":{"type":"ordinal","domain":["Männerberufe","Frauenberufe","Sonstige"],"range":[0.8,0.55,0.6]},"legend":null},"stroke":{"field":"gruppe","type":"nominal","scale":{"domain":["Männerberufe","Frauenberufe","Sonstige"],"range":["#0B4787","#BFCC1F","#3C6541"]},"legend":null},"strokeWidth":{"field":"gruppe","type":"nominal","scale":{"type":"ordinal","domain":["Männerberufe","Frauenberufe","Sonstige"],"range":[0,1.2,0]},"legend":null}}},
{"data":{"name":"trend"},"transform":[{"filter":"datum.panel==='Dresden'"}],"mark":{"type":"line","stroke":"#0B3F7E","strokeWidth":3,"strokeDash":[2.5,2]},"encoding":{"x":{"field":"frauenanteil","type":"quantitative","scale":{"domain":[-10,100],"nice":false,"zero":false},"title":"Frauenanteil (in %)"},"y":{"field":"veraenderung","type":"quantitative","scale":{"domain":[-30,70],"nice":false,"zero":false},"title":"Veränderung SVB 2021 zu 2013 (in %)"}}},
{"data":{"name":"leaders"},"transform":[{"filter":"datum.panel==='Dresden'"}],"mark":{"type":"line","stroke":"#a6a6a6","strokeWidth":1},"encoding":{"x":{"field":"frauenanteil","type":"quantitative","scale":{"domain":[-10,100],"nice":false,"zero":false},"title":"Frauenanteil (in %)"},"y":{"field":"veraenderung","type":"quantitative","scale":{"domain":[-30,70],"nice":false,"zero":false},"title":"Veränderung SVB 2021 zu 2013 (in %)"},"detail":{"field":"lid","type":"nominal"},"order":{"field":"ord","type":"quantitative"}}},
{"data":{"name":"labels"},"transform":[{"filter":"datum.panel==='Dresden'"}],"mark":{"type":"text","lineBreak":"\n","lineHeight":19,"fontSize":14,"align":"center","baseline":"middle","color":"#262626"},"encoding":{"x":{"field":"frauenanteil","type":"quantitative","scale":{"domain":[-10,100],"nice":false,"zero":false},"title":"Frauenanteil (in %)"},"y":{"field":"veraenderung","type":"quantitative","scale":{"domain":[-30,70],"nice":false,"zero":false},"title":"Veränderung SVB 2021 zu 2013 (in %)"},"text":{"field":"text","type":"nominal"}}}
]},
{"title":{"text":"Bautzen","dx":-16},"width":621,"height":405,"layer":[
{"data":{"name":"refs"},"transform":[{"filter":"datum.panel==='Bautzen'"}],"mark":{"type":"rule","stroke":"#7f7f7f","strokeWidth":1.5},"encoding":{"x":{"field":"frauenanteil","type":"quantitative","scale":{"domain":[-10,100],"nice":false,"zero":false},"title":"Frauenanteil (in %)"}}},
{"data":{"name":"refs"},"transform":[{"filter":"datum.panel==='Bautzen'"}],"mark":{"type":"rule","stroke":"#7f7f7f","strokeWidth":2},"encoding":{"y":{"field":"veraenderung","type":"quantitative","scale":{"domain":[-30,70],"nice":false,"zero":false},"title":"Veränderung SVB 2021 zu 2013 (in %)"}}},
{"data":{"name":"bubbles"},"transform":[{"filter":"datum.panel==='Bautzen'"}],"mark":{"type":"point","shape":"circle","filled":true},"encoding":{"x":{"field":"frauenanteil","type":"quantitative","scale":{"domain":[-10,100],"nice":false,"zero":false},"title":"Frauenanteil (in %)"},"y":{"field":"veraenderung","type":"quantitative","scale":{"domain":[-30,70],"nice":false,"zero":false},"title":"Veränderung SVB 2021 zu 2013 (in %)"},"size":{"field":"groesse","type":"quantitative","scale":{"domain":[0,10000],"range":[0,7854]},"legend":null},"fill":{"field":"gruppe","type":"nominal","scale":{"domain":["Männerberufe","Frauenberufe","Sonstige"],"range":["#0B4787","#D4E04A","#3C6541"]},"legend":null},"fillOpacity":{"field":"gruppe","type":"nominal","scale":{"type":"ordinal","domain":["Männerberufe","Frauenberufe","Sonstige"],"range":[0.8,0.55,0.6]},"legend":null},"stroke":{"field":"gruppe","type":"nominal","scale":{"domain":["Männerberufe","Frauenberufe","Sonstige"],"range":["#0B4787","#BFCC1F","#3C6541"]},"legend":null},"strokeWidth":{"field":"gruppe","type":"nominal","scale":{"type":"ordinal","domain":["Männerberufe","Frauenberufe","Sonstige"],"range":[0,1.2,0]},"legend":null}}},
{"data":{"name":"trend"},"transform":[{"filter":"datum.panel==='Bautzen'"}],"mark":{"type":"line","stroke":"#0B3F7E","strokeWidth":3,"strokeDash":[2.5,2]},"encoding":{"x":{"field":"frauenanteil","type":"quantitative","scale":{"domain":[-10,100],"nice":false,"zero":false},"title":"Frauenanteil (in %)"},"y":{"field":"veraenderung","type":"quantitative","scale":{"domain":[-30,70],"nice":false,"zero":false},"title":"Veränderung SVB 2021 zu 2013 (in %)"}}},
{"data":{"name":"leaders"},"transform":[{"filter":"datum.panel==='Bautzen'"}],"mark":{"type":"line","stroke":"#a6a6a6","strokeWidth":1},"encoding":{"x":{"field":"frauenanteil","type":"quantitative","scale":{"domain":[-10,100],"nice":false,"zero":false},"title":"Frauenanteil (in %)"},"y":{"field":"veraenderung","type":"quantitative","scale":{"domain":[-30,70],"nice":false,"zero":false},"title":"Veränderung SVB 2021 zu 2013 (in %)"},"detail":{"field":"lid","type":"nominal"},"order":{"field":"ord","type":"quantitative"}}},
{"data":{"name":"labels"},"transform":[{"filter":"datum.panel==='Bautzen'"}],"mark":{"type":"text","lineBreak":"\n","lineHeight":19,"fontSize":14,"align":"center","baseline":"middle","color":"#262626"},"encoding":{"x":{"field":"frauenanteil","type":"quantitative","scale":{"domain":[-10,100],"nice":false,"zero":false},"title":"Frauenanteil (in %)"},"y":{"field":"veraenderung","type":"quantitative","scale":{"domain":[-30,70],"nice":false,"zero":false},"title":"Veränderung SVB 2021 zu 2013 (in %)"},"text":{"field":"text","type":"nominal"}}}
]},
{"title":{"text":"Görlitz","dx":-20},"width":621,"height":405,"layer":[
{"data":{"name":"refs"},"transform":[{"filter":"datum.panel==='Görlitz'"}],"mark":{"type":"rule","stroke":"#7f7f7f","strokeWidth":1.5},"encoding":{"x":{"field":"frauenanteil","type":"quantitative","scale":{"domain":[-10,100],"nice":false,"zero":false},"title":"Frauenanteil (in %)"}}},
{"data":{"name":"refs"},"transform":[{"filter":"datum.panel==='Görlitz'"}],"mark":{"type":"rule","stroke":"#7f7f7f","strokeWidth":2},"encoding":{"y":{"field":"veraenderung","type":"quantitative","scale":{"domain":[-30,70],"nice":false,"zero":false},"title":"Veränderung SVB 2021 zu 2013 (in %)"}}},
{"data":{"name":"bubbles"},"transform":[{"filter":"datum.panel==='Görlitz'"}],"mark":{"type":"point","shape":"circle","filled":true},"encoding":{"x":{"field":"frauenanteil","type":"quantitative","scale":{"domain":[-10,100],"nice":false,"zero":false},"title":"Frauenanteil (in %)"},"y":{"field":"veraenderung","type":"quantitative","scale":{"domain":[-30,70],"nice":false,"zero":false},"title":"Veränderung SVB 2021 zu 2013 (in %)"},"size":{"field":"groesse","type":"quantitative","scale":{"domain":[0,10000],"range":[0,7854]},"legend":null},"fill":{"field":"gruppe","type":"nominal","scale":{"domain":["Männerberufe","Frauenberufe","Sonstige"],"range":["#0B4787","#D4E04A","#3C6541"]},"legend":null},"fillOpacity":{"field":"gruppe","type":"nominal","scale":{"type":"ordinal","domain":["Männerberufe","Frauenberufe","Sonstige"],"range":[0.8,0.55,0.6]},"legend":null},"stroke":{"field":"gruppe","type":"nominal","scale":{"domain":["Männerberufe","Frauenberufe","Sonstige"],"range":["#0B4787","#BFCC1F","#3C6541"]},"legend":null},"strokeWidth":{"field":"gruppe","type":"nominal","scale":{"type":"ordinal","domain":["Männerberufe","Frauenberufe","Sonstige"],"range":[0,1.2,0]},"legend":null}}},
{"data":{"name":"trend"},"transform":[{"filter":"datum.panel==='Görlitz'"}],"mark":{"type":"line","stroke":"#0B3F7E","strokeWidth":3,"strokeDash":[2.5,2]},"encoding":{"x":{"field":"frauenanteil","type":"quantitative","scale":{"domain":[-10,100],"nice":false,"zero":false},"title":"Frauenanteil (in %)"},"y":{"field":"veraenderung","type":"quantitative","scale":{"domain":[-30,70],"nice":false,"zero":false},"title":"Veränderung SVB 2021 zu 2013 (in %)"}}},
{"data":{"name":"leaders"},"transform":[{"filter":"datum.panel==='Görlitz'"}],"mark":{"type":"line","stroke":"#a6a6a6","strokeWidth":1},"encoding":{"x":{"field":"frauenanteil","type":"quantitative","scale":{"domain":[-10,100],"nice":false,"zero":false},"title":"Frauenanteil (in %)"},"y":{"field":"veraenderung","type":"quantitative","scale":{"domain":[-30,70],"nice":false,"zero":false},"title":"Veränderung SVB 2021 zu 2013 (in %)"},"detail":{"field":"lid","type":"nominal"},"order":{"field":"ord","type":"quantitative"}}},
{"data":{"name":"labels"},"transform":[{"filter":"datum.panel==='Görlitz'"}],"mark":{"type":"text","lineBreak":"\n","lineHeight":19,"fontSize":14,"align":"center","baseline":"middle","color":"#262626"},"encoding":{"x":{"field":"frauenanteil","type":"quantitative","scale":{"domain":[-10,100],"nice":false,"zero":false},"title":"Frauenanteil (in %)"},"y":{"field":"veraenderung","type":"quantitative","scale":{"domain":[-30,70],"nice":false,"zero":false},"title":"Veränderung SVB 2021 zu 2013 (in %)"},"text":{"field":"text","type":"nominal"}}}
]},
{"title":{"text":"Meißen","dx":-13},"width":621,"height":405,"layer":[
{"data":{"name":"refs"},"transform":[{"filter":"datum.panel==='Meißen'"}],"mark":{"type":"rule","stroke":"#7f7f7f","strokeWidth":1.5},"encoding":{"x":{"field":"frauenanteil","type":"quantitative","scale":{"domain":[-10,100],"nice":false,"zero":false},"title":"Frauenanteil (in %)"}}},
{"data":{"name":"refs"},"transform":[{"filter":"datum.panel==='Meißen'"}],"mark":{"type":"rule","stroke":"#7f7f7f","strokeWidth":2},"encoding":{"y":{"field":"veraenderung","type":"quantitative","scale":{"domain":[-30,70],"nice":false,"zero":false},"title":"Veränderung SVB 2021 zu 2013 (in %)"}}},
{"data":{"name":"bubbles"},"transform":[{"filter":"datum.panel==='Meißen'"}],"mark":{"type":"point","shape":"circle","filled":true},"encoding":{"x":{"field":"frauenanteil","type":"quantitative","scale":{"domain":[-10,100],"nice":false,"zero":false},"title":"Frauenanteil (in %)"},"y":{"field":"veraenderung","type":"quantitative","scale":{"domain":[-30,70],"nice":false,"zero":false},"title":"Veränderung SVB 2021 zu 2013 (in %)"},"size":{"field":"groesse","type":"quantitative","scale":{"domain":[0,10000],"range":[0,7854]},"legend":null},"fill":{"field":"gruppe","type":"nominal","scale":{"domain":["Männerberufe","Frauenberufe","Sonstige"],"range":["#0B4787","#D4E04A","#3C6541"]},"legend":null},"fillOpacity":{"field":"gruppe","type":"nominal","scale":{"type":"ordinal","domain":["Männerberufe","Frauenberufe","Sonstige"],"range":[0.8,0.55,0.6]},"legend":null},"stroke":{"field":"gruppe","type":"nominal","scale":{"domain":["Männerberufe","Frauenberufe","Sonstige"],"range":["#0B4787","#BFCC1F","#3C6541"]},"legend":null},"strokeWidth":{"field":"gruppe","type":"nominal","scale":{"type":"ordinal","domain":["Männerberufe","Frauenberufe","Sonstige"],"range":[0,1.2,0]},"legend":null}}},
{"data":{"name":"trend"},"transform":[{"filter":"datum.panel==='Meißen'"}],"mark":{"type":"line","stroke":"#0B3F7E","strokeWidth":3,"strokeDash":[2.5,2]},"encoding":{"x":{"field":"frauenanteil","type":"quantitative","scale":{"domain":[-10,100],"nice":false,"zero":false},"title":"Frauenanteil (in %)"},"y":{"field":"veraenderung","type":"quantitative","scale":{"domain":[-30,70],"nice":false,"zero":false},"title":"Veränderung SVB 2021 zu 2013 (in %)"}}},
{"data":{"name":"leaders"},"transform":[{"filter":"datum.panel==='Meißen'"}],"mark":{"type":"line","stroke":"#a6a6a6","strokeWidth":1},"encoding":{"x":{"field":"frauenanteil","type":"quantitative","scale":{"domain":[-10,100],"nice":false,"zero":false},"title":"Frauenanteil (in %)"},"y":{"field":"veraenderung","type":"quantitative","scale":{"domain":[-30,70],"nice":false,"zero":false},"title":"Veränderung SVB 2021 zu 2013 (in %)"},"detail":{"field":"lid","type":"nominal"},"order":{"field":"ord","type":"quantitative"}}},
{"data":{"name":"labels"},"transform":[{"filter":"datum.panel==='Meißen'"}],"mark":{"type":"text","lineBreak":"\n","lineHeight":19,"fontSize":14,"align":"center","baseline":"middle","color":"#262626"},"encoding":{"x":{"field":"frauenanteil","type":"quantitative","scale":{"domain":[-10,100],"nice":false,"zero":false},"title":"Frauenanteil (in %)"},"y":{"field":"veraenderung","type":"quantitative","scale":{"domain":[-30,70],"nice":false,"zero":false},"title":"Veränderung SVB 2021 zu 2013 (in %)"},"text":{"field":"text","type":"nominal"}}}
]},
{"title":{"text":"Sächsische Schweiz/Osterzgebirge","dx":-20},"width":621,"height":405,"layer":[
{"data":{"name":"refs"},"transform":[{"filter":"datum.panel==='Sächsische Schweiz/Osterzgebirge'"}],"mark":{"type":"rule","stroke":"#7f7f7f","strokeWidth":1.5},"encoding":{"x":{"field":"frauenanteil","type":"quantitative","scale":{"domain":[-10,100],"nice":false,"zero":false},"title":"Frauenanteil (in %)"}}},
{"data":{"name":"refs"},"transform":[{"filter":"datum.panel==='Sächsische Schweiz/Osterzgebirge'"}],"mark":{"type":"rule","stroke":"#7f7f7f","strokeWidth":2},"encoding":{"y":{"field":"veraenderung","type":"quantitative","scale":{"domain":[-30,70],"nice":false,"zero":false},"title":"Veränderung SVB 2021 zu 2013 (in %)"}}},
{"data":{"name":"bubbles"},"transform":[{"filter":"datum.panel==='Sächsische Schweiz/Osterzgebirge'"}],"mark":{"type":"point","shape":"circle","filled":true},"encoding":{"x":{"field":"frauenanteil","type":"quantitative","scale":{"domain":[-10,100],"nice":false,"zero":false},"title":"Frauenanteil (in %)"},"y":{"field":"veraenderung","type":"quantitative","scale":{"domain":[-30,70],"nice":false,"zero":false},"title":"Veränderung SVB 2021 zu 2013 (in %)"},"size":{"field":"groesse","type":"quantitative","scale":{"domain":[0,10000],"range":[0,7854]},"legend":null},"fill":{"field":"gruppe","type":"nominal","scale":{"domain":["Männerberufe","Frauenberufe","Sonstige"],"range":["#0B4787","#D4E04A","#3C6541"]},"legend":null},"fillOpacity":{"field":"gruppe","type":"nominal","scale":{"type":"ordinal","domain":["Männerberufe","Frauenberufe","Sonstige"],"range":[0.8,0.55,0.6]},"legend":null},"stroke":{"field":"gruppe","type":"nominal","scale":{"domain":["Männerberufe","Frauenberufe","Sonstige"],"range":["#0B4787","#BFCC1F","#3C6541"]},"legend":null},"strokeWidth":{"field":"gruppe","type":"nominal","scale":{"type":"ordinal","domain":["Männerberufe","Frauenberufe","Sonstige"],"range":[0,1.2,0]},"legend":null}}},
{"data":{"name":"trend"},"transform":[{"filter":"datum.panel==='Sächsische Schweiz/Osterzgebirge'"}],"mark":{"type":"line","stroke":"#0B3F7E","strokeWidth":3,"strokeDash":[2.5,2]},"encoding":{"x":{"field":"frauenanteil","type":"quantitative","scale":{"domain":[-10,100],"nice":false,"zero":false},"title":"Frauenanteil (in %)"},"y":{"field":"veraenderung","type":"quantitative","scale":{"domain":[-30,70],"nice":false,"zero":false},"title":"Veränderung SVB 2021 zu 2013 (in %)"}}},
{"data":{"name":"leaders"},"transform":[{"filter":"datum.panel==='Sächsische Schweiz/Osterzgebirge'"}],"mark":{"type":"line","stroke":"#a6a6a6","strokeWidth":1},"encoding":{"x":{"field":"frauenanteil","type":"quantitative","scale":{"domain":[-10,100],"nice":false,"zero":false},"title":"Frauenanteil (in %)"},"y":{"field":"veraenderung","type":"quantitative","scale":{"domain":[-30,70],"nice":false,"zero":false},"title":"Veränderung SVB 2021 zu 2013 (in %)"},"detail":{"field":"lid","type":"nominal"},"order":{"field":"ord","type":"quantitative"}}},
{"data":{"name":"labels"},"transform":[{"filter":"datum.panel==='Sächsische Schweiz/Osterzgebirge'"}],"mark":{"type":"text","lineBreak":"\n","lineHeight":19,"fontSize":14,"align":"center","baseline":"middle","color":"#262626"},"encoding":{"x":{"field":"frauenanteil","type":"quantitative","scale":{"domain":[-10,100],"nice":false,"zero":false},"title":"Frauenanteil (in %)"},"y":{"field":"veraenderung","type":"quantitative","scale":{"domain":[-30,70],"nice":false,"zero":false},"title":"Veränderung SVB 2021 zu 2013 (in %)"},"text":{"field":"text","type":"nominal"}}}
]}
],
"config": {
"view": {"stroke": null},
"font": "Liberation Sans",
"axis": {"grid": true, "gridColor": "#a8a8a8", "gridDash": [2, 1.5], "gridWidth": 1, "domain": false, "ticks": false, "tickSize": 0, "labelFont": "Liberation Sans", "labelFontSize": 15, "labelColor": "#1a1a1a", "labelFlush": false, "labelOverlap": false, "titleFont": "Liberation Sans", "titleFontSize": 14.5, "titleFontWeight": "normal", "titleColor": "#333333"},
"axisX": {"tickCount": 11, "labelPadding": 15, "titlePadding": 12},
"axisY": {"tickCount": 10, "labelPadding": 16, "titlePadding": 5},
"title": {"fontSize": 48, "font": "Liberation Sans", "fontWeight": "normal", "color": "#0A4A8D", "anchor": "middle", "frame": "group", "baseline": "alphabetic", "offset": 12}
}
}
